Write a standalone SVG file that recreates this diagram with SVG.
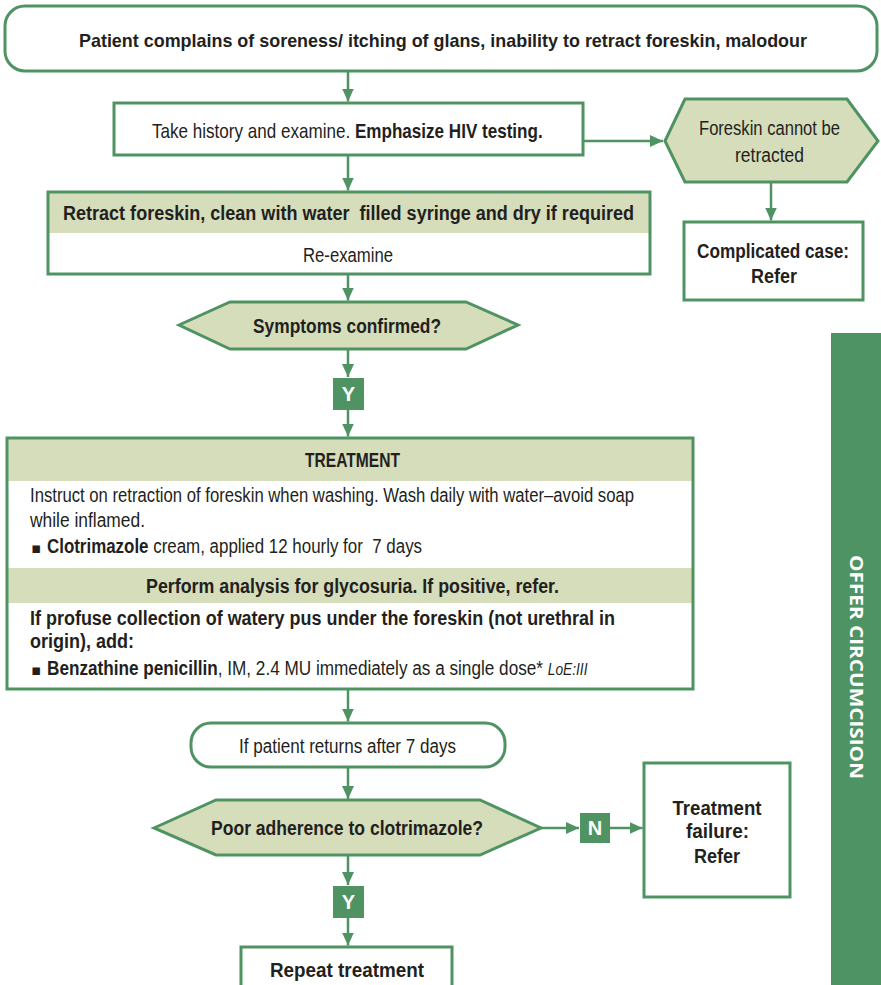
<svg xmlns="http://www.w3.org/2000/svg" width="881" height="985" viewBox="0 0 881 985">
<defs>
<style>
.box{fill:#ffffff;stroke:#4f9362;stroke-width:3}
.hex{fill:#d5ddbb;stroke:#4f9362;stroke-width:3}
.band{fill:#d5ddbb}
.lbl{fill:#4f9362}
.conn{stroke:#4f9362;stroke-width:2.5;fill:none}
.t{font-family:"Liberation Sans",Arial,sans-serif;font-size:20px;fill:#231f20}
.b{font-weight:bold}
.m{text-anchor:middle}
.w{fill:#ffffff;font-size:20px}
.bul{font-family:"DejaVu Sans",sans-serif;font-size:15px;fill:#231f20}
.pre{white-space:pre}
.side{font-family:"Open Sans","Liberation Sans",sans-serif;font-size:17px;font-weight:bold;fill:#ffffff;text-anchor:middle}
</style>
<marker id="ah" viewBox="0 0 13 12" refX="13" refY="6" markerWidth="13" markerHeight="12" markerUnits="userSpaceOnUse" orient="auto">
<path d="M0,0 L13,6 L0,12 z" fill="#4f9362"/>
</marker>
</defs>
<rect width="881" height="985" fill="#ffffff"/>

<g id="connectors">
<path class="conn" d="M348,71 L348,101.5" marker-end="url(#ah)"/>
<path class="conn" d="M583,141 L663,141" marker-end="url(#ah)"/>
<path class="conn" d="M771,182 L771,220.5" marker-end="url(#ah)"/>
<path class="conn" d="M348,155 L348,190.5" marker-end="url(#ah)"/>
<path class="conn" d="M348,274 L348,300.5" marker-end="url(#ah)"/>
<path class="conn" d="M348,349 L348,377" marker-end="url(#ah)"/>
<path class="conn" d="M348,410 L348,436.5" marker-end="url(#ah)"/>
<path class="conn" d="M348,689 L348,721.5" marker-end="url(#ah)"/>
<path class="conn" d="M348,767 L348,799" marker-end="url(#ah)"/>
<path class="conn" d="M541,828 L579,828" marker-end="url(#ah)"/>
<path class="conn" d="M610,828 L642.5,828" marker-end="url(#ah)"/>
<path class="conn" d="M348,855 L348,885" marker-end="url(#ah)"/>
<path class="conn" d="M348,918 L348,945.5" marker-end="url(#ah)"/>
</g>

<g id="start">
<rect class="box" x="5" y="6" width="872" height="65" rx="20"/>
<text class="t b m" x="443" y="47" style="font-size:19px" textLength="728" lengthAdjust="spacingAndGlyphs">Patient complains of soreness/ itching of glans, inability to retract foreskin, malodour</text>
</g>

<g id="history">
<rect class="box" x="114" y="103" width="469" height="52"/>
<text class="t pre" transform="translate(152,138) scale(0.854,1)" x="0" y="0">Take history and examine. <tspan class="b">Emphasize HIV testing.</tspan></text>
</g>

<g id="cannot-retract">
<polygon class="hex" points="665,141 685,99 847,99 878,141 847,182 685,182"/>
<text class="t m" x="769.5" y="135" textLength="141" lengthAdjust="spacingAndGlyphs">Foreskin cannot be</text>
<text class="t m" x="769.5" y="162" textLength="69" lengthAdjust="spacingAndGlyphs">retracted</text>
</g>

<g id="complicated">
<rect class="box" x="684" y="222" width="179" height="78"/>
<text class="t b m" x="773" y="258" textLength="152" lengthAdjust="spacingAndGlyphs">Complicated case:</text>
<text class="t b m" x="774" y="283" textLength="46" lengthAdjust="spacingAndGlyphs">Refer</text>
</g>

<g id="retract">
<rect class="band" x="48" y="192" width="602" height="41"/>
<rect class="box" x="48" y="192" width="602" height="82" style="fill:none"/>
<text class="t b m pre" x="348.5" y="220" textLength="571" lengthAdjust="spacingAndGlyphs">Retract foreskin, clean with water  filled syringe and dry if required</text>
<text class="t m" x="348" y="262" textLength="90" lengthAdjust="spacingAndGlyphs">Re-examine</text>
</g>

<g id="symptoms">
<polygon class="hex" points="179,325 230,302 466,302 518,325 466,349 230,349"/>
<text class="t b m" x="347" y="333" textLength="188" lengthAdjust="spacingAndGlyphs">Symptoms confirmed?</text>
</g>

<g id="yes1">
<rect class="lbl" x="333" y="378" width="31" height="32"/>
<text class="t b m w" x="348.5" y="401">Y</text>
</g>

<g id="treatment">
<rect class="band" x="7" y="438" width="686" height="43"/>
<rect class="band" x="7" y="568" width="686" height="35"/>
<rect class="box" x="7" y="438" width="686" height="251" style="fill:none"/>
<text class="t b m" x="352.5" y="467" textLength="95" lengthAdjust="spacingAndGlyphs">TREATMENT</text>
<text class="t" x="30" y="502" textLength="604" lengthAdjust="spacingAndGlyphs">Instruct on retraction of foreskin when washing. Wash daily with water–avoid soap</text>
<text class="t" x="30" y="527" textLength="115" lengthAdjust="spacingAndGlyphs">while inflamed.</text>
<text class="bul" x="31" y="553">▪</text>
<text class="t pre" transform="translate(47,553) scale(0.846,1)" x="0" y="0"><tspan class="b">Clotrimazole</tspan> cream, applied 12 hourly for  7 days</text>
<text class="t b m" x="352.5" y="593" textLength="413" lengthAdjust="spacingAndGlyphs">Perform analysis for glycosuria. If positive, refer.</text>
<text class="t b" x="30" y="625" textLength="585" lengthAdjust="spacingAndGlyphs">If profuse collection of watery pus under the foreskin (not urethral in</text>
<text class="t b" x="30" y="648" textLength="104" lengthAdjust="spacingAndGlyphs">origin), add:</text>
<text class="bul" x="31" y="675">▪</text>
<text class="t pre" transform="translate(47,675) scale(0.859,1)" x="0" y="0"><tspan class="b">Benzathine penicillin</tspan>, IM, 2.4 MU immediately as a single dose* <tspan style="font-style:italic;font-size:16px">LoE:III</tspan></text>
</g>

<g id="returns">
<rect class="box" x="191" y="723" width="314" height="44" rx="20"/>
<text class="t m" x="347.5" y="753" textLength="217" lengthAdjust="spacingAndGlyphs">If patient returns after 7 days</text>
</g>

<g id="adherence">
<polygon class="hex" points="154,828 216,800 480,800 541,828 480,855 216,855"/>
<text class="t b m" x="347" y="835" textLength="272" lengthAdjust="spacingAndGlyphs">Poor adherence to clotrimazole?</text>
</g>

<g id="no1">
<rect class="lbl" x="580" y="813" width="30" height="30"/>
<text class="t b m w" x="595" y="835">N</text>
</g>

<g id="failure">
<rect class="box" x="644" y="763" width="146" height="134"/>
<text class="t b m" x="717" y="815" textLength="89" lengthAdjust="spacingAndGlyphs">Treatment</text>
<text class="t b m" x="717.5" y="838" textLength="63" lengthAdjust="spacingAndGlyphs">failure:</text>
<text class="t b m" x="717" y="863" textLength="46" lengthAdjust="spacingAndGlyphs">Refer</text>
</g>

<g id="yes2">
<rect class="lbl" x="333" y="886" width="31" height="32"/>
<text class="t b m w" x="348.5" y="909">Y</text>
</g>

<g id="repeat">
<rect class="box" x="241" y="947" width="211" height="50"/>
<text class="t b m" x="347" y="977" textLength="154" lengthAdjust="spacingAndGlyphs">Repeat treatment</text>
</g>

<g id="circumcision">
<rect x="831" y="333" width="50" height="652" fill="#4e9363"/>
<text class="side" x="856" y="673" transform="rotate(90 856 667)" textLength="224" lengthAdjust="spacingAndGlyphs">OFFER CIRCUMCISION</text>
</g>
</svg>
